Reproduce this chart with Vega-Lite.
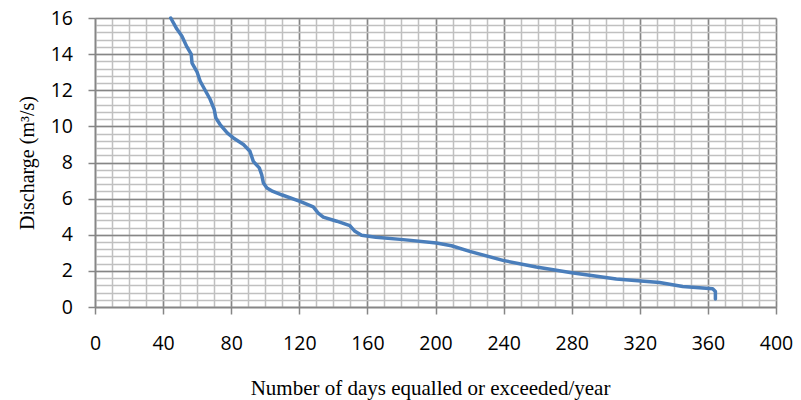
{
  "$schema": "https://vega.github.io/schema/vega-lite/v6.json",
  "width": 681,
  "height": 289,
  "autosize": {"type": "none"},
  "padding": {"left": 95, "top": 18, "right": 25, "bottom": 93},
  "background": "white",
  "config": {
    "view": {"stroke": null},
    "axis": {
      "labelFont": "Open Sans",
      "labelFontSize": 19.5,
      "labelColor": "#000000",
      "titleFont": "Liberation Serif",
      "titleFontSize": 20,
      "titleFontWeight": "normal",
      "titleColor": "#000000"
    }
  },
  "data": {
    "values": [
      {"d": 44.5, "q": 16},
      {"d": 48, "q": 15.4},
      {"d": 51, "q": 15},
      {"d": 54, "q": 14.4},
      {"d": 56.5, "q": 14},
      {"d": 57, "q": 13.5},
      {"d": 60, "q": 13},
      {"d": 61.8, "q": 12.5},
      {"d": 64.7, "q": 12},
      {"d": 67.6, "q": 11.5},
      {"d": 70, "q": 10.95},
      {"d": 71, "q": 10.46},
      {"d": 73.5, "q": 10.1},
      {"d": 77.8, "q": 9.63},
      {"d": 81.3, "q": 9.36},
      {"d": 87.2, "q": 9.0},
      {"d": 91, "q": 8.62},
      {"d": 93, "q": 8.06},
      {"d": 96.5, "q": 7.7},
      {"d": 97.9, "q": 7.33},
      {"d": 98.9, "q": 6.87},
      {"d": 101, "q": 6.59},
      {"d": 104.5, "q": 6.4},
      {"d": 110, "q": 6.2},
      {"d": 120.4, "q": 5.85},
      {"d": 128.2, "q": 5.54},
      {"d": 131.1, "q": 5.2},
      {"d": 134.1, "q": 4.98},
      {"d": 142, "q": 4.75},
      {"d": 149.7, "q": 4.5},
      {"d": 152.7, "q": 4.19},
      {"d": 156.6, "q": 3.97},
      {"d": 165, "q": 3.86},
      {"d": 181, "q": 3.73},
      {"d": 200.6, "q": 3.54},
      {"d": 209.4, "q": 3.39},
      {"d": 220.1, "q": 3.08},
      {"d": 239.6, "q": 2.58},
      {"d": 259.2, "q": 2.21},
      {"d": 280, "q": 1.9},
      {"d": 306.2, "q": 1.55},
      {"d": 331.6, "q": 1.36},
      {"d": 345.2, "q": 1.14},
      {"d": 362.8, "q": 1.01},
      {"d": 364.4, "q": 0.86},
      {"d": 364.4, "q": 0.44}
    ]
  },
  "layer": [
    {
      "mark": {"type": "line", "strokeOpacity": 0},
      "encoding": {
        "x": {
          "field": "d",
          "type": "quantitative",
          "scale": {"domain": [0, 400], "nice": false},
          "axis": {
            "orient": "top",
            "values": [0, 10, 20, 30, 40, 50, 60, 70, 80, 90, 100, 110, 120, 130, 140, 150, 160, 170, 180, 190, 200, 210, 220, 230, 240, 250, 260, 270, 280, 290, 300, 310, 320, 330, 340, 350, 360, 370, 380, 390, 400],
            "grid": true,
            "gridColor": "#c0c0c0",
            "gridWidth": 1.5,
            "labels": false,
            "ticks": false,
            "domain": false,
            "title": null
          }
        },
        "y": {
          "field": "q",
          "type": "quantitative",
          "scale": {"domain": [0, 16], "nice": false},
          "axis": {
            "orient": "right",
            "values": [0, 0.4, 0.8, 1.2, 1.6, 2, 2.4, 2.8, 3.2, 3.6, 4, 4.4, 4.8, 5.2, 5.6, 6, 6.4, 6.8, 7.2, 7.6, 8, 8.4, 8.8, 9.2, 9.6, 10, 10.4, 10.8, 11.2, 11.6, 12, 12.4, 12.8, 13.2, 13.6, 14, 14.4, 14.8, 15.2, 15.6, 16],
            "grid": true,
            "gridColor": "#c0c0c0",
            "gridWidth": 1.5,
            "labels": false,
            "ticks": false,
            "domain": false,
            "title": null
          }
        },
        "order": {"field": "q", "sort": "descending"}
      }
    },
    {
      "mark": {"type": "line", "color": "#4a7ebb", "strokeWidth": 3.5, "strokeJoin": "round", "strokeCap": "round"},
      "encoding": {
        "x": {
          "field": "d",
          "type": "quantitative",
          "scale": {"domain": [0, 400], "nice": false},
          "axis": {
            "orient": "bottom",
            "values": [0, 40, 80, 120, 160, 200, 240, 280, 320, 360, 400],
            "grid": true,
            "gridColor": "#868686",
            "gridWidth": 1.5,
            "tickColor": "#868686",
            "tickWidth": 1.5,
            "tickSize": 7,
            "domainColor": "#868686",
            "domainWidth": 1.5,
            "labelPadding": 20.5,
            "labelFlush": false,
            "labelOverlap": false,
            "labelBound": false,
            "title": "Number of days equalled or exceeded/year",
            "titleFontSize": 21,
            "titleX": 335,
            "titleAlign": "center",
            "titleY": 87,
            "titleBaseline": "alphabetic"
          }
        },
        "y": {
          "field": "q",
          "type": "quantitative",
          "scale": {"domain": [0, 16], "nice": false},
          "axis": {
            "orient": "left",
            "values": [0, 2, 4, 6, 8, 10, 12, 14, 16],
            "grid": true,
            "gridColor": "#868686",
            "gridWidth": 1.5,
            "tickColor": "#868686",
            "tickWidth": 1.5,
            "tickSize": 7,
            "domainColor": "#868686",
            "domainWidth": 1.5,
            "labelPadding": 15.5,
            "labelOverlap": false,
            "labelBound": false,
            "labelFlush": false,
            "title": "Discharge (m³/s)",
            "titleX": -62,
            "titleBaseline": "alphabetic"
          }
        },
        "order": {"field": "q", "sort": "descending"}
      }
    }
  ],
  "resolve": {"axis": {"x": "independent", "y": "independent"}}
}
